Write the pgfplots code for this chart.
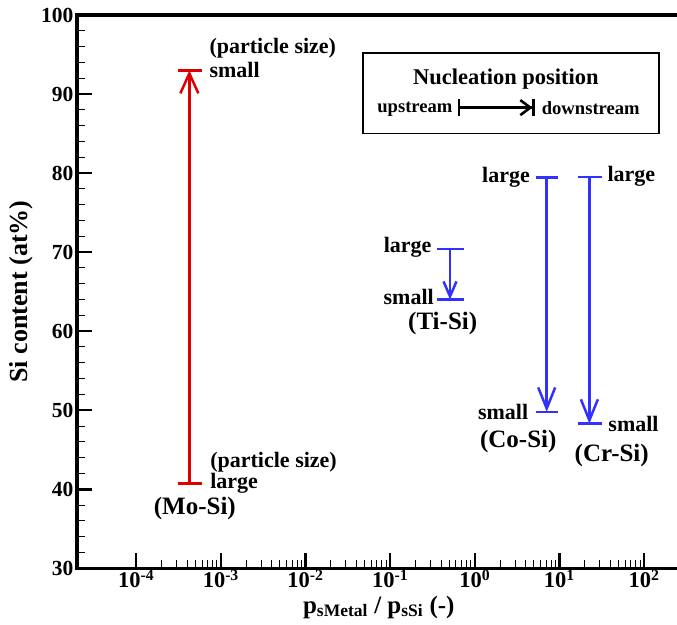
\documentclass[border=0pt]{standalone}
\usepackage{fontspec}
\setmainfont{Liberation Serif}
\usepackage{pgfplots}
\pgfplotsset{compat=1.18}
\usetikzlibrary{arrows.meta}
\definecolor{myred}{RGB}{220,0,0}
\definecolor{myblue}{RGB}{50,50,255}
\newcommand\lbl{\fontsize{22}{26}\selectfont\bfseries}
\newcommand\grp{\fontsize{25}{30}\selectfont\bfseries}
\newcommand\leg{\fontsize{18.6}{22}\selectfont\bfseries}
\begin{document}
\begin{tikzpicture}
\begin{axis}[
  scale only axis, width=600pt, height=553.3pt,
  xmode=log, xmin=2e-5, xmax=245, ymin=30, ymax=100,
  axis line style={draw=none},
  xtick={1e-4,1e-3,1e-2,1e-1,1,10,100},
  xticklabels={10\textsuperscript{-4},10\textsuperscript{-3},10\textsuperscript{-2},10\textsuperscript{-1},10\textsuperscript{0},10\textsuperscript{1},10\textsuperscript{2}},
  ytick={30,40,...,100},
  minor y tick num=4,
  xtick pos=bottom, ytick pos=left,
  tick align=inside,
  major tick length=15pt, minor tick length=8pt,
  every major tick/.append style={line width=2.5pt, black},
  every minor tick/.append style={line width=1pt, black},
  xticklabel style={font=\fontsize{22.5}{26}\selectfont\bfseries, yshift=2pt},
  yticklabel style={font=\fontsize{21.5}{25}\selectfont\bfseries, /pgf/number format/assume math mode=true},
  every axis y label/.style={at={(axis description cs:-0.0933,0.5)},rotate=90,anchor=center},
  every axis x label/.style={at={(axis description cs:0.503,-0.0808)},anchor=base},
  ylabel={\fontsize{26}{31}\selectfont\bfseries Si content (at\%)},
  xlabel={\fontsize{25}{29}\selectfont\bfseries p\textsubscript{sMetal} / p\textsubscript{sSi} (-)},
  clip=false,
]
% axis frame (left, bottom, top)
\draw[line width=3.2pt, line cap=rect] (rel axis cs:1,1) -- (rel axis cs:0,1) -- (rel axis cs:0,0) -- (rel axis cs:1,0);

% Mo-Si (red)
\addplot[myred, line width=2.5pt, -{Straight Barb[length=20pt,width=18pt]}] coordinates {(4.25e-4,40.7) (4.25e-4,93.0)};
\addplot[myred, line width=2.5pt] coordinates {(3.12e-4,93.0) (5.97e-4,93.0)};
\addplot[myred, line width=2.5pt] coordinates {(3.12e-4,40.7) (5.97e-4,40.7)};

% Ti-Si
\addplot[myblue, line width=2.5pt, -{Straight Barb[length=15pt,width=13pt]}] coordinates {(0.51,70.4) (0.51,64.0)};
\addplot[myblue, line width=2.5pt] coordinates {(0.356,70.4) (0.75,70.4)};
\addplot[myblue, line width=2.5pt] coordinates {(0.356,64.0) (0.75,64.0)};

% Co-Si
\addplot[myblue, line width=2.5pt, -{Straight Barb[length=21pt,width=17pt]}] coordinates {(7.08,79.44) (7.08,49.8)};
\addplot[myblue, line width=2.5pt] coordinates {(5.26,79.44) (9.73,79.44)};
\addplot[myblue, line width=2.5pt] coordinates {(5.26,49.8) (9.73,49.8)};

% Cr-Si
\addplot[myblue, line width=2.5pt, -{Straight Barb[length=21pt,width=17pt]}] coordinates {(22.6,79.5) (22.6,48.3)};
\addplot[myblue, line width=2.5pt] coordinates {(16.6,79.5) (32.1,79.5)};
\addplot[myblue, line width=2.5pt] coordinates {(16.6,48.3) (32.1,48.3)};

% labels
\node[anchor=west, inner sep=0pt, font=\lbl] at (axis cs:7.33e-4,95.86) {(particle size)};
\node[anchor=west, inner sep=0pt, font=\lbl] at (axis cs:7.33e-4,93.03) {small};
\node[anchor=west, inner sep=0pt, font=\lbl] at (axis cs:7.48e-4,43.46) {(particle size)};
\node[anchor=west, inner sep=0pt, font=\lbl] at (axis cs:7.48e-4,40.72) {large};
\node[anchor=center, inner sep=0pt, font=\grp] at (axis cs:4.93e-4,37.56) {(Mo-Si)};

\node[anchor=east, inner sep=0pt, font=\lbl] at (axis cs:0.31,70.61) {large};
\node[anchor=east, inner sep=0pt, font=\lbl] at (axis cs:0.33,64.33) {small};
\node[anchor=center, inner sep=0pt, font=\grp] at (axis cs:0.418,61.0) {(Ti-Si)};

\node[anchor=east, inner sep=0pt, font=\lbl] at (axis cs:4.5,79.44) {large};
\node[anchor=east, inner sep=0pt, font=\lbl] at (axis cs:4.3,49.77) {small};
\node[anchor=center, inner sep=0pt, font=\grp] at (axis cs:3.27,45.98) {(Co-Si)};

\node[anchor=west, inner sep=0pt, font=\lbl] at (axis cs:36.8,79.65) {large};
\node[anchor=west, inner sep=0pt, font=\lbl] at (axis cs:37.8,48.3) {small};
\node[anchor=center, inner sep=0pt, font=\grp] at (axis cs:41.5,44.3) {(Cr-Si)};

% nucleation box
\draw[line width=1.8pt] (axis cs:0.0483,85.0) rectangle (axis cs:150,95.23);
\node[anchor=center, inner sep=0pt, font=\fontsize{22.5}{27}\selectfont\bfseries] at (axis cs:2.33,91.94) {Nucleation position};
\draw[line width=2.6pt, {Bar[width=17pt]}-{Straight Barb[length=10pt,width=15pt]Bar[width=17pt]}] (axis cs:0.631,88.28) -- (axis cs:5.16,88.28);
\node[anchor=east, inner sep=0pt, font=\leg, yshift=-2pt] at (axis cs:0.548,88.28) {upstream};
\node[anchor=west, inner sep=0pt, font=\leg, yshift=-1pt] at (axis cs:6.17,88.28) {downstream};

\coordinate (SW) at (rel axis cs:0,0);
\coordinate (NE) at (rel axis cs:1,1);
\end{axis}
\pgfresetboundingbox
\path ([shift={(-77pt,-56.7pt)}]SW) rectangle ([shift={(0pt,15pt)}]NE);
\end{tikzpicture}
\end{document}
